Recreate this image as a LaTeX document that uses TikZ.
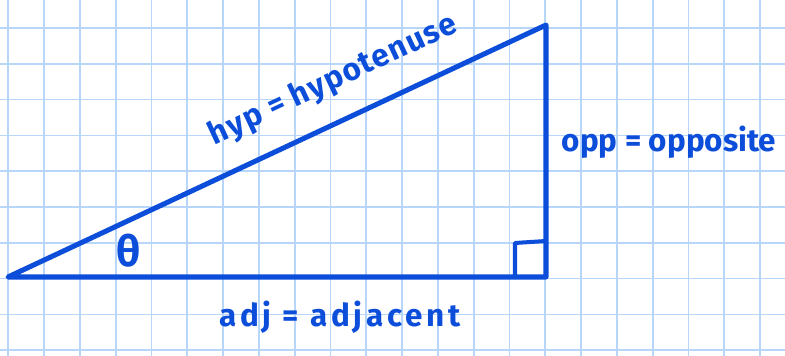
\documentclass[tikz,border=0pt]{standalone}
\usepackage{fontspec}
\setsansfont{Fira Sans}
\definecolor{ink}{RGB}{12,78,218}
\definecolor{gridblue}{RGB}{184,214,250}

\begin{document}
\begin{tikzpicture}[x=0.02794cm,y=-0.02794cm,
  every node/.style={font=\sffamily\bfseries\fontsize{25}{28}\selectfont,text=ink},
  side/.style={draw=ink,line width=4pt,line join=round,line cap=round}]
\useasboundingbox (0,0) rectangle (785,356);
\fill[white] (0,0) rectangle (785,356);
\foreach \i in {0,...,21}{\draw[gridblue,line width=1.3pt] (8.3+35.8*\i,0)--(8.3+35.8*\i,356);}
\foreach \j in {0,...,9}{\draw[gridblue,line width=1.3pt] (0,28+35.8*\j)--(785,28+35.8*\j);}
\coordinate (A) at (8,277);
\coordinate (C) at (546,277);
\coordinate (B) at (546,25);
\draw[side] (A)--(C)--(B)--cycle;
\draw[side,line width=3.2pt] (C) ++(-31,0) -- ++(0,-34) -- ++(31,-2);
\node[anchor=base,rotate=25.1] (hyp) at (337,88) {\addfontfeatures{LetterSpace=4}hyp = hypotenuse};
\node[anchor=base] (opp) at (669,152) {opp = opposite};
\node[anchor=base] (adj) at (340,327) {\addfontfeatures{LetterSpace=12}adj = adjacent};
\node[font=\sffamily\bfseries\fontsize{34}{36}\selectfont] (theta) at (129,251) {θ};
\end{tikzpicture}
\end{document}
